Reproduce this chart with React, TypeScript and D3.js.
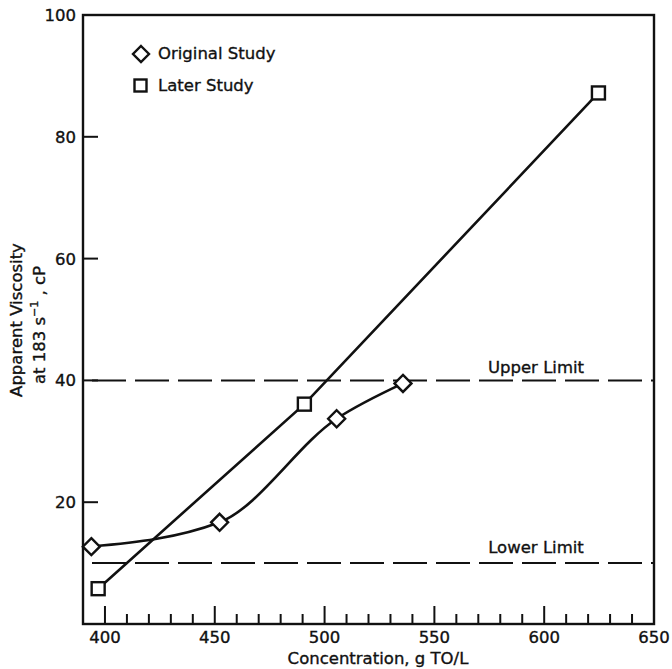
import React, { useRef, useEffect } from "react";
import * as d3 from "d3";

// Original study: concentration (g TO/L) vs apparent viscosity (cP)
const originalConc = [393.8, 452.2, 505.5, 535.7];
const originalVisc = [12.7, 16.7, 33.7, 39.5];

// Later study
const laterConc = [396.9, 490.8, 624.7];
const laterVisc = [5.8, 36.1, 87.2];

// Limits
const limitNames = ["Upper Limit", "Lower Limit"];
const limitValues = [40, 10];

const xTicks = [400, 450, 500, 550, 600, 650];
const yTicks = [20, 40, 60, 80, 100];

const W = 672;
const H = 669;
const FONT = "'DejaVu Sans', Verdana, sans-serif";

function ViscosityChart() {
  const ref = useRef<SVGSVGElement | null>(null);

  useEffect(() => {
    const svg = d3.select(ref.current).html("");

    const left = 83, right = 654, top = 15, bottom = 624;
    const x = d3.scaleLinear().domain([390, 650]).range([left, right]);
    const y = d3.scaleLinear().domain([0, 100]).range([bottom, top]);

    const ink = "#111";

    // scanned text looks a bit heavier than plain regular
    const label = (sel: any) =>
      sel.attr("font-family", FONT).attr("font-size", 16.5)
        .attr("fill", ink).attr("stroke", ink).attr("stroke-width", 0.35);

    // frame
    svg.append("rect")
      .attr("x", left).attr("y", top)
      .attr("width", right - left).attr("height", bottom - top)
      .attr("fill", "none").attr("stroke", ink).attr("stroke-width", 2.4);

    // x ticks: minor every 10, major every 50
    const minor = d3.range(400, 650, 10);
    svg.append("g").selectAll("line").data(minor).join("line")
      .attr("x1", (d) => x(d)).attr("x2", (d) => x(d))
      .attr("y1", bottom).attr("y2", (d) => bottom - (d % 50 === 0 ? 18 : 10))
      .attr("stroke", ink).attr("stroke-width", 2);

    svg.append("g").selectAll("text").data(xTicks).join("text")
      .attr("x", (d) => x(d)).attr("y", 643)
      .attr("text-anchor", "middle")
      .call(label)
      .text((d) => d);

    // y ticks
    svg.append("g").selectAll("line").data(yTicks.filter((d) => d < 100)).join("line")
      .attr("x1", left).attr("x2", left + 15)
      .attr("y1", (d) => y(d)).attr("y2", (d) => y(d))
      .attr("stroke", ink).attr("stroke-width", 2);

    svg.append("g").selectAll("text").data(yTicks).join("text")
      .attr("x", 76).attr("y", (d) => y(d))
      .attr("dy", "0.36em")
      .attr("text-anchor", "end")
      .call(label)
      .text((d) => d);

    // axis titles
    svg.append("text")
      .attr("x", 378).attr("y", 664)
      .attr("text-anchor", "middle")
      .call(label)
      .text("Concentration, g TO/L");

    svg.append("text")
      .attr("transform", "translate(0,320) rotate(-90)")
      .attr("x", 0).attr("y", 22)
      .attr("text-anchor", "middle")
      .call(label)
      .text("Apparent Viscosity");
    const l2 = svg.append("text")
      .attr("transform", "translate(0,325) rotate(-90)")
      .attr("x", 0).attr("y", 45)
      .attr("text-anchor", "middle")
      .call(label);
    l2.append("tspan").text("at 183 s");
    l2.append("tspan").attr("dy", -7).attr("font-size", 11).text("−1");
    l2.append("tspan").attr("dy", 7).text(" , cP");

    // limit lines
    limitValues.forEach((v, i) => {
      svg.append("line")
        .attr("x1", left).attr("x2", right)
        .attr("y1", y(v)).attr("y2", y(v))
        .attr("stroke", ink).attr("stroke-width", 2)
        .attr("stroke-dasharray", "34 9")
        .attr("stroke-dashoffset", 34);
      svg.append("text")
        .attr("x", 536).attr("y", y(v) - (i === 0 ? 7 : 10))
        .attr("text-anchor", "middle")
        .call(label)
        .text(limitNames[i]);
    });

    // later study: straight segments
    const later = laterConc.map((c, i) => [c, laterVisc[i]] as [number, number]);
    svg.append("path")
      .attr("d", d3.line().x((d) => x(d[0])).y((d) => y(d[1]))(later))
      .attr("fill", "none").attr("stroke", ink).attr("stroke-width", 2.6);

    // original study: smooth curve
    const orig = originalConc.map((c, i) => [c, originalVisc[i]] as [number, number]);
    svg.append("path")
      .attr("d", d3.line().curve(d3.curveMonotoneX).x((d) => x(d[0])).y((d) => y(d[1]))(orig))
      .attr("fill", "none").attr("stroke", ink).attr("stroke-width", 2.6);

    const diamond = (cx: number, cy: number, r: number) =>
      `M${cx},${cy - r}L${cx + r},${cy}L${cx},${cy + r}L${cx - r},${cy}Z`;

    svg.append("g").selectAll("path").data(orig).join("path")
      .attr("d", (d) => diamond(x(d[0]), y(d[1]), 8.5))
      .attr("fill", "white").attr("stroke", ink).attr("stroke-width", 2.4);

    svg.append("g").selectAll("rect").data(later).join("rect")
      .attr("x", (d) => x(d[0]) - 6.5).attr("y", (d) => y(d[1]) - 6.5)
      .attr("width", 13).attr("height", 13)
      .attr("fill", "white").attr("stroke", ink).attr("stroke-width", 2.4);

    // legend
    svg.append("path").attr("d", diamond(141, 54, 8))
      .attr("fill", "white").attr("stroke", ink).attr("stroke-width", 2.4);
    svg.append("text").attr("x", 158).attr("y", 59)
      .call(label)
      .text("Original Study");
    svg.append("rect").attr("x", 134.5).attr("y", 79.5).attr("width", 12).attr("height", 12)
      .attr("fill", "white").attr("stroke", ink).attr("stroke-width", 2.4);
    svg.append("text").attr("x", 158).attr("y", 91)
      .call(label)
      .text("Later Study");
  }, []);

  return (
    <svg
      ref={ref}
      width={W}
      height={H}
      style={{ position: "absolute", left: 0, top: 0, background: "white" }}
    />
  );
}

export default function App() {
  return <ViscosityChart />;
}
